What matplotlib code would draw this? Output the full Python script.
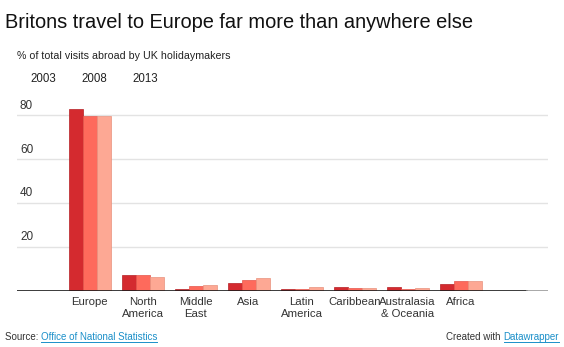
import matplotlib
matplotlib.use("Agg")
import matplotlib.pyplot as plt
import matplotlib.transforms as mtransforms

plt.rcParams['font.family'] = ['Liberation Sans', 'DejaVu Sans']

regions = ["Europe", "North\nAmerica", "Middle\nEast", "Asia", "Latin\nAmerica",
           "Caribbean", "Australasia\n& Oceania", "Africa"]
years = ["2003", "2008", "2013"]
share_2003 = [83.1, 7.1, 0.9, 3.5, 0.9, 1.4, 1.5, 3.1]
share_2008 = [79.9, 7.1, 2.0, 4.7, 0.6, 1.3, 0.8, 4.3]
share_2013 = [79.6, 6.2, 2.4, 5.6, 1.4, 1.3, 1.3, 4.3]
yticks = [20, 40, 60, 80]

colors = ["#d42a2f", "#fe6a5c", "#fda894"]
edges = ["#b51f24", "#e5554a", "#e8927e"]

W, H = 564, 347
fig = plt.figure(figsize=(W / 100, H / 100), dpi=100)

# axes placed in pixel units of the reference
x0, x1 = 17, 548
ybase, ytop = 290.5, 104.5
ax = fig.add_axes([x0 / W, (H - ybase) / H, (x1 - x0) / W, (ybase - ytop) / H])

step = 53.0
c0 = 89.5
ax.set_xlim((x0 - c0) / step, (x1 - c0) / step)
ax.set_ylim(0, 85)

bw = 14 / step
series = [share_2003, share_2008, share_2013]
for k, vals in enumerate(series):
    xs = [i + (k - 1) * bw for i in range(len(regions))]
    ax.bar(xs, vals, width=bw, color=colors[k], edgecolor=edges[k], linewidth=0.5, zorder=3)

blend = mtransforms.blended_transform_factory(ax.transAxes, ax.transData)
for t in yticks:
    ax.axhline(t, color="#e3e3e3", linewidth=1, zorder=1)
    ax.text(3 / (x1 - x0), t + 1.6, str(t), transform=blend,
            fontsize=8.5, color="#333333", ha="left", va="bottom")
ax.plot([0, 0.96], [0, 0], transform=blend, color="#1a1a1a", linewidth=1.2, zorder=4)
ax.plot([0.96, 1], [0, 0], transform=blend, color="#999999", linewidth=1.2, zorder=4)

for s in ax.spines.values():
    s.set_visible(False)
ax.set_xticks([])
ax.set_yticks([])
ax.patch.set_alpha(0)

for i, name in enumerate(regions):
    ax.text(i, -2.8, name, ha="center", va="top", fontsize=8.2, color="#333333",
            linespacing=1.25, transform=ax.transData)

fig.text(5 / W, 1 - 22 / H, "Britons travel to Europe far more than anywhere else",
         fontsize=14.4, color="#111111", ha="left", va="center")
fig.text(17 / W, 1 - 56 / H, "% of total visits abroad by UK holidaymakers",
         fontsize=7.7, color="#222222", ha="left", va="center")
for name, xc in zip(years, [43, 94, 145]):
    fig.text(xc / W, 1 - 79 / H, name, fontsize=8.3, color="#222222", ha="center", va="center")

# footer
fy = 1 - 337.5 / H
fs = 7.0
src = fig.text(5 / W, fy, "Source: ", fontsize=fs, color="#333333", ha="left", va="center")
fig.canvas.draw()
r = fig.canvas.get_renderer()
bb = src.get_window_extent(r)
link = fig.text(bb.x1 / W, fy, "Office of National Statistics", fontsize=fs,
                color="#1a8fc9", ha="left", va="center")
bb2 = link.get_window_extent(r)
fig.add_artist(plt.Line2D([bb2.x0 / W, bb2.x1 / W], [(bb2.y0 + 1) / H] * 2, color="#1a8fc9", linewidth=0.7))

dw = fig.text(559 / W, fy, "Datawrapper", fontsize=fs, color="#1a8fc9", ha="right", va="center")
bb3 = dw.get_window_extent(r)
fig.add_artist(plt.Line2D([bb3.x0 / W, bb3.x1 / W], [(bb3.y0 + 1) / H] * 2, color="#1a8fc9", linewidth=0.7))
fig.text(bb3.x0 / W, fy, "Created with ", fontsize=fs, color="#333333", ha="right", va="center")

fig.savefig("out.png", dpi=100, facecolor="white")
